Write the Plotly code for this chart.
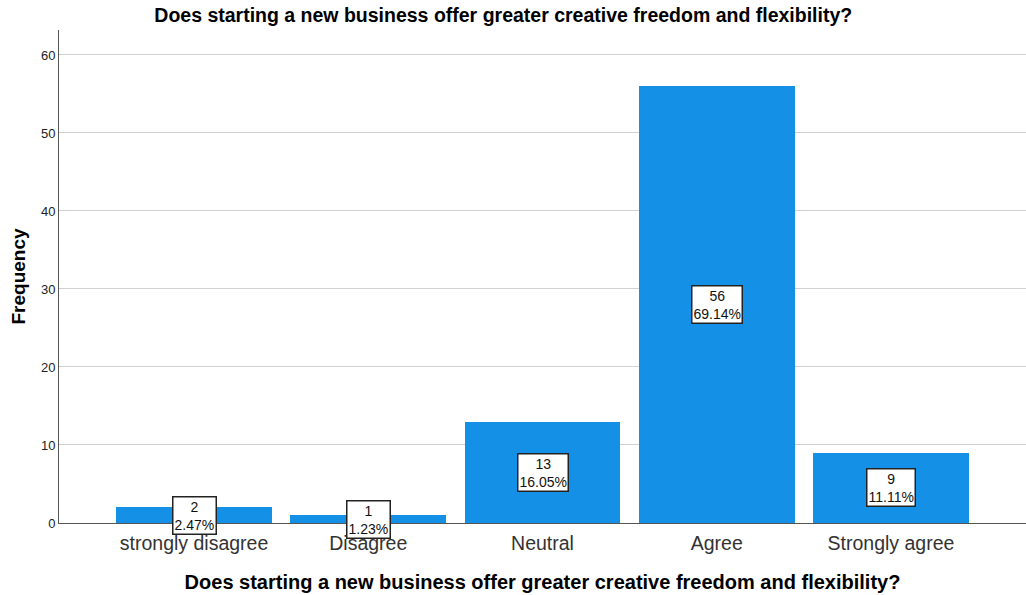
import plotly.graph_objects as go

categories = ["strongly disagree", "Disagree", "Neutral", "Agree", "Strongly agree"]
counts = [2, 1, 13, 56, 9]
y_ticks = [0, 10, 20, 30, 40, 50, 60]

title = "Does starting a new business offer greater creative freedom and flexibility?"
total = sum(counts)
percents = [100 * c / total for c in counts]

bar_color = "#1491E6"
font_family = "Liberation Sans, Arial, sans-serif"

fig = go.Figure(
    go.Bar(
        x=categories,
        y=counts,
        marker=dict(color=bar_color, line=dict(width=0)),
        width=0.895,
        hoverinfo="skip",
    )
)

# value / percentage boxes at the middle of each bar
for cat, c, p in zip(categories, counts, percents):
    fig.add_annotation(
        x=cat, y=c / 2, xref="x", yref="y",
        text=f"{c}<br>{p:.2f}%",
        showarrow=False,
        font=dict(family=font_family, size=14, color="#111111"),
        bgcolor="#ffffff",
        bordercolor="#222222",
        borderwidth=1.5,
        borderpad=1,
        align="center",
    )

fig.update_layout(
    width=1026,
    height=595,
    margin=dict(l=59, r=0, t=30, b=72),
    paper_bgcolor="#ffffff",
    plot_bgcolor="#ffffff",
    showlegend=False,
    font=dict(family=font_family, color="#000000"),
    title=dict(
        text="<b>" + title + "</b>",
        x=0.4905, xanchor="center",
        y=0.975, yanchor="middle",
        font=dict(size=19.5, color="#000000"),
    ),
    bargap=0,
)

fig.update_xaxes(
    range=[-0.775, 4.775],
    showline=True, linecolor="#555555", linewidth=1,
    ticks="", showgrid=False,
    ticklabelstandoff=3,
    tickfont=dict(size=19.5, color="#333333"),
    title=dict(text="<b>" + title + "</b>", font=dict(size=20, color="#000000"), standoff=21),
)

fig.update_yaxes(
    range=[0, 63.2],
    tickvals=y_ticks,
    showline=True, linecolor="#555555", linewidth=1,
    showgrid=True, gridcolor="#D0D0D0", gridwidth=1,
    zeroline=False,
    ticks="", ticklen=0,
    tickfont=dict(size=13, color="#222222"),
    title=dict(text="<b>Frequency</b>", font=dict(size=19, color="#000000"), standoff=10),
)

fig.write_html("out.html")
